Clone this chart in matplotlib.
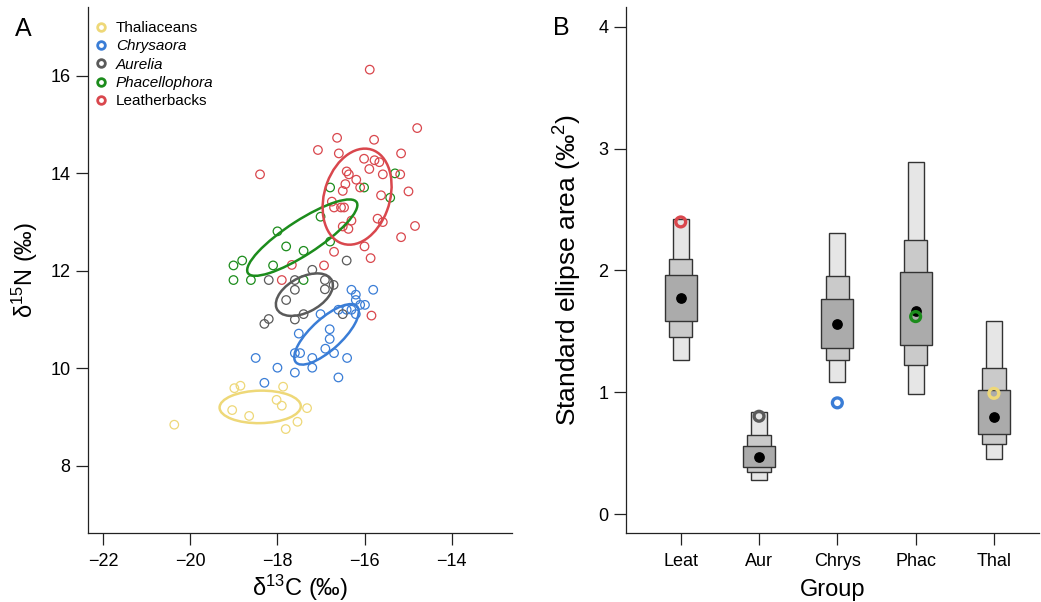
import numpy as np
import matplotlib
matplotlib.use('Agg')
import matplotlib.pyplot as plt
from matplotlib.patches import Ellipse
from matplotlib.lines import Line2D

plt.rcParams['font.family'] = ['Liberation Sans', 'DejaVu Sans']
plt.rcParams['mathtext.fontset'] = 'custom'
plt.rcParams['mathtext.rm'] = 'Liberation Sans'
plt.rcParams['mathtext.it'] = 'Liberation Sans:italic'

# --- Panel A: isotope values per group (d13C, d15N) ---
thal_c = [-18.99, -18.85, -17.87, -18.02, -17.90, -17.32, -19.04, -18.65, -17.54, -17.81, -20.37]
thal_n = [9.59, 9.64, 9.62, 9.35, 9.23, 9.18, 9.14, 9.02, 8.90, 8.75, 8.84]

chrys_c = [-16.30, -15.80, -16.20, -16.20, -16.10, -15.99, -16.60, -16.41, -16.30, -16.20, -17.01,
           -17.51, -16.80, -16.80, -16.90, -17.60, -17.48, -16.70, -17.20, -16.40, -18.50, -18.00,
           -17.20, -17.60, -16.60, -18.30]
chrys_n = [11.61, 11.61, 11.51, 11.40, 11.30, 11.30, 11.20, 11.20, 11.20, 11.11, 11.11,
           10.71, 10.80, 10.60, 10.40, 10.31, 10.31, 10.31, 10.21, 10.21, 10.21, 10.01,
           10.01, 9.91, 9.81, 9.70]

aur_c = [-16.41, -17.20, -18.20, -17.60, -16.91, -16.71, -17.60, -16.91, -17.80, -17.40, -16.50,
         -17.60, -18.20, -18.30]
aur_n = [12.21, 12.02, 11.81, 11.81, 11.81, 11.71, 11.61, 11.62, 11.40, 11.11, 11.11,
         11.00, 11.01, 10.91]

phac_c = [-15.30, -16.79, -16.01, -15.41, -17.01, -18.00, -16.79, -17.80, -17.40, -18.81, -19.01,
          -18.10, -19.01, -18.61, -17.40]
phac_n = [14.00, 13.71, 13.71, 13.50, 13.11, 12.81, 12.60, 12.50, 12.41, 12.21, 12.11,
          12.11, 11.81, 11.81, 11.81]

leat_c = [-15.88, -14.79, -16.63, -15.78, -17.07, -16.59, -15.16, -16.01, -15.77, -15.66, -18.40,
          -16.41, -16.36, -15.89, -15.58, -15.18, -16.19, -16.44, -16.10, -16.50, -14.99, -15.62,
          -16.75, -16.70, -16.54, -16.47, -16.30, -15.70, -15.58, -16.50, -16.37, -14.84, -15.16,
          -16.00, -16.70, -15.86, -16.93, -17.67, -17.90, -15.84]
leat_n = [16.13, 14.93, 14.73, 14.69, 14.48, 14.41, 14.41, 14.30, 14.27, 14.23, 13.98,
          14.04, 13.98, 14.09, 13.98, 13.98, 13.87, 13.78, 13.71, 13.64, 13.63, 13.55,
          13.42, 13.30, 13.30, 13.30, 13.03, 13.07, 13.00, 12.91, 12.86, 12.92, 12.69,
          12.50, 12.39, 12.26, 12.11, 12.12, 11.81, 11.08]

group_names = ['Thaliaceans', 'Chrysaora', 'Aurelia', 'Phacellophora', 'Leatherbacks']
group_italic = [False, True, True, True, False]
group_colors = ['#EED878', '#3A7DD6', '#5A5A5A', '#1C8C1C', '#D9474D']

# --- Panel B: Bayesian standard ellipse areas ---
sea_groups = ['Leat', 'Aur', 'Chrys', 'Phac', 'Thal']
sea_colors = ['#D9474D', '#5A5A5A', '#3A7DD6', '#1C8C1C', '#EED878']
ci95_lo = [1.262, 0.277, 1.086, 0.988, 0.456]
ci95_hi = [2.420, 0.840, 2.304, 2.889, 1.583]
ci75_lo = [1.454, 0.346, 1.262, 1.224, 0.576]
ci75_hi = [2.093, 0.648, 1.954, 2.247, 1.202]
ci50_lo = [1.586, 0.384, 1.363, 1.388, 0.661]
ci50_hi = [1.964, 0.557, 1.769, 1.983, 1.017]
sea_mode = [1.775, 0.469, 1.564, 1.668, 0.793]
sea_c = [2.398, 0.803, 0.913, 1.621, 0.991]


def style_axis(ax):
    # R-like "L" box with outward ticks
    ax.spines['top'].set_visible(False)
    ax.spines['right'].set_visible(False)
    for s in ['left', 'bottom']:
        ax.spines[s].set_linewidth(0.9)
        ax.spines[s].set_color('#222222')
    ax.tick_params(direction='out', length=8.5, width=0.9, color='#222222', labelsize=13)
    ax.tick_params(axis='x', pad=6)
    ax.tick_params(axis='y', pad=4)


def standard_ellipse(ax, x, y, color):
    # small-sample corrected standard ellipse (SEAc)
    x = np.asarray(x)
    y = np.asarray(y)
    n = len(x)
    cov = np.cov(x, y) * (n - 1) / (n - 2)
    vals, vecs = np.linalg.eigh(cov)
    angle = np.degrees(np.arctan2(vecs[1, 1], vecs[0, 1]))
    ell = Ellipse((x.mean(), y.mean()), 2 * np.sqrt(vals[1]), 2 * np.sqrt(vals[0]),
                  angle=angle, fill=False, edgecolor=color, linewidth=1.8, zorder=3)
    ax.add_patch(ell)


def main():
    fig = plt.figure(figsize=(10.41, 6.02), dpi=100)

    # ---------------- Panel A ----------------
    ax1 = fig.add_axes([0.0842, 0.1141, 0.4073, 0.8738])
    data = [(thal_c, thal_n), (chrys_c, chrys_n), (aur_c, aur_n),
            (phac_c, phac_n), (leat_c, leat_n)]
    for (xc, yn), col in zip(data, group_colors):
        ax1.scatter(xc, yn, s=38, facecolors='none', edgecolors=col, linewidths=0.9, zorder=2)
    for (xc, yn), col in zip(data, group_colors):
        standard_ellipse(ax1, xc, yn, col)

    ax1.set_xlim(-22.36, -12.62)
    ax1.set_ylim(6.61, 17.41)
    ax1.set_xticks([-22, -20, -18, -16, -14])
    ax1.set_xticklabels(['\u221222', '\u221220', '\u221218', '\u221216', '\u221214'])
    ax1.set_yticks([8, 10, 12, 14, 16])
    style_axis(ax1)
    ax1.set_xlabel('\u03b4$^{13}$C (\u2030)', fontsize=17, labelpad=1.5)
    ax1.set_ylabel('\u03b4$^{15}$N (\u2030)', fontsize=17, labelpad=7)

    handles = [Line2D([], [], marker='o', linestyle='', markerfacecolor='none',
                      markeredgecolor=c, markeredgewidth=2, markersize=5.5)
               for c in group_colors]
    leg = ax1.legend(handles, group_names, loc='upper left', frameon=False, fontsize=11,
                     bbox_to_anchor=(87 / 1041, 1 - 13.5 / 602), bbox_transform=fig.transFigure,
                     borderpad=0, handlelength=0.8, handletextpad=0.6, labelspacing=0.28)
    for txt, it in zip(leg.get_texts(), group_italic):
        if it:
            txt.set_fontstyle('italic')

    fig.text(15 / 1041, 1 - 29 / 602, 'A', fontsize=18, va='center', ha='left')

    # ---------------- Panel B ----------------
    ax2 = fig.add_axes([0.6011, 0.1141, 0.3970, 0.8738])
    pos = np.arange(1, len(sea_groups) + 1)
    ax2.bar(pos, np.subtract(ci95_hi, ci95_lo), bottom=ci95_lo, width=0.205,
            color='#E6E6E6', edgecolor='#333333', linewidth=1.0, zorder=2)
    ax2.bar(pos, np.subtract(ci75_hi, ci75_lo), bottom=ci75_lo, width=0.30,
            color='#CACACA', edgecolor='#333333', linewidth=1.0, zorder=3)
    ax2.bar(pos, np.subtract(ci50_hi, ci50_lo), bottom=ci50_lo, width=0.41,
            color='#ABABAB', edgecolor='#333333', linewidth=1.0, zorder=4)
    ax2.scatter(pos, sea_mode, s=45, color='black', zorder=5)
    ax2.scatter(pos, sea_c, s=50, facecolors='none', edgecolors=sea_colors,
                linewidths=2.4, zorder=6)

    ax2.set_xlim(0.2976, 5.576)
    ax2.set_ylim(-0.158, 4.16)
    ax2.set_xticks(pos)
    ax2.set_xticklabels(sea_groups)
    ax2.set_yticks([0, 1, 2, 3, 4])
    style_axis(ax2)
    ax2.set_xlabel('Group', fontsize=17, labelpad=6)
    ax2.set_ylabel('Standard ellipse area (\u2030$^{2}$)', fontsize=19, labelpad=10)

    fig.text(553 / 1041, 1 - 28 / 602, 'B', fontsize=18, va='center', ha='left')

    fig.savefig('out.png', dpi=100)


if __name__ == '__main__':
    main()
